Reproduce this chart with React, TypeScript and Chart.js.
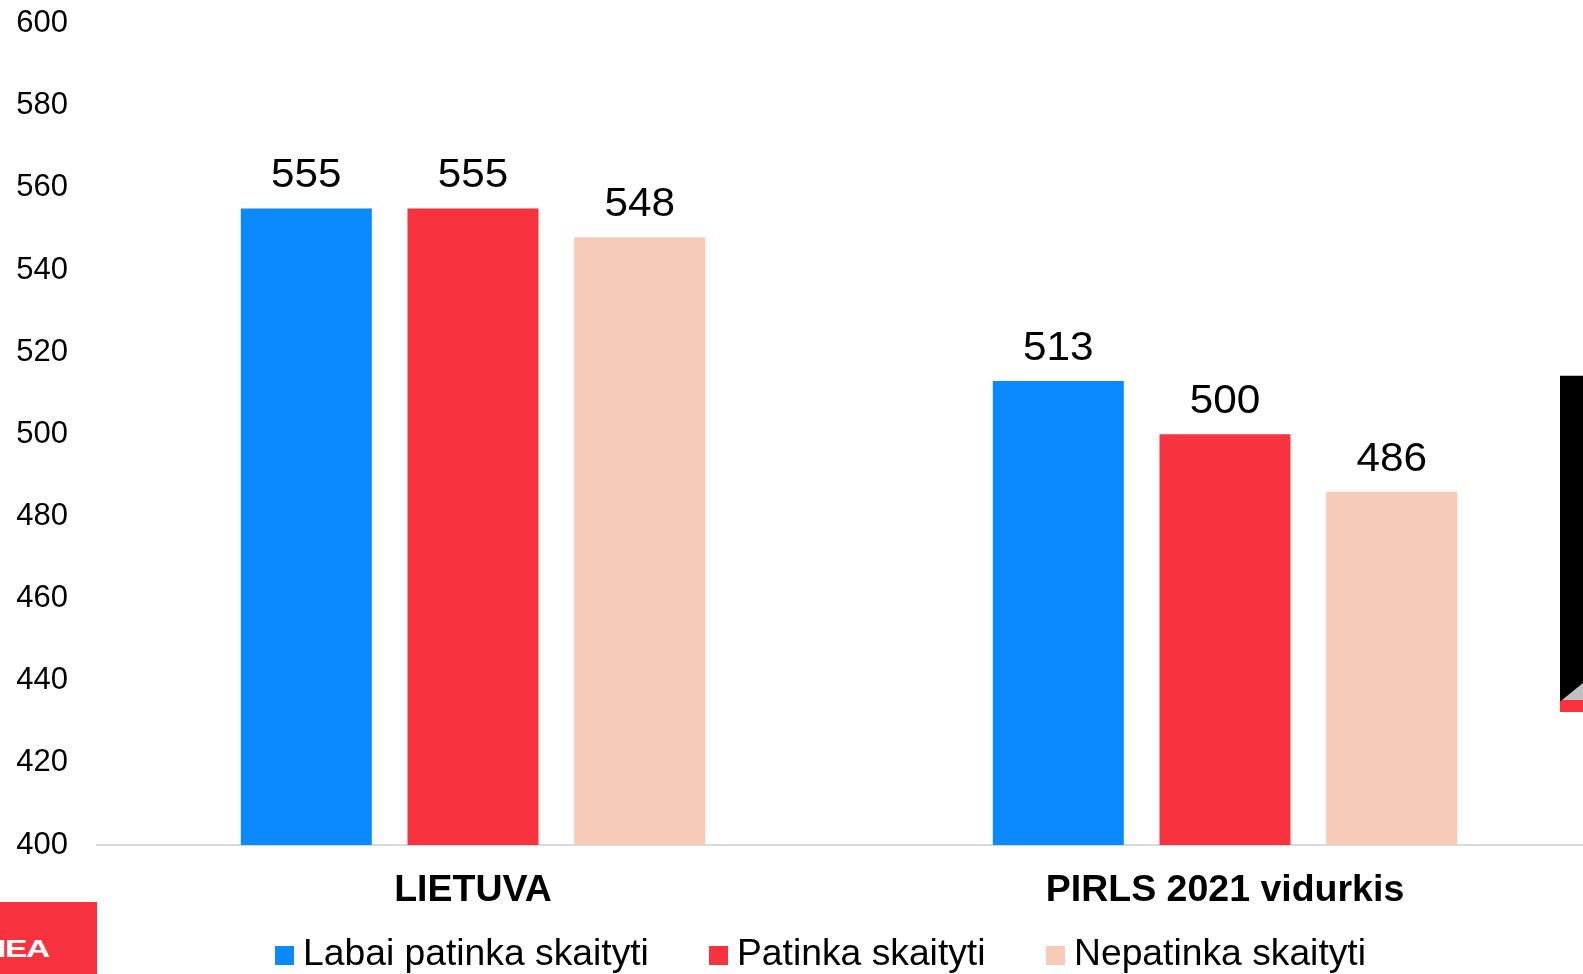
import React, { useEffect, useRef } from "react";
import { Chart, registerables } from "chart.js";

Chart.register(...registerables);

const categories = ["LIETUVA", "PIRLS 2021 vidurkis"];
const seriesNames = ["Labai patinka skaityti", "Patinka skaityti", "Nepatinka skaityti"];
const labaiPatinka = [555, 513];
const patinka = [555, 500];
const nepatinka = [548, 486];
const yMin = 400;
const yMax = 600;
const yStep = 20;
const colors = ["#0B8AFF", "#F8323F", "#F8CBB9"];

const FONT = '"Liberation Sans", Arial, Helvetica, sans-serif';

const valueLabels = {
  id: "valueLabels",
  afterDatasetsDraw(chart: any) {
    const ctx = chart.ctx;
    chart.data.datasets.forEach((ds: any, i: number) => {
      const meta = chart.getDatasetMeta(i);
      meta.data.forEach((bar: any, j: number) => {
        ctx.save();
        ctx.font = `40.5px ${FONT}`;
        ctx.fillStyle = "#000";
        ctx.textAlign = "center";
        ctx.textBaseline = "alphabetic";
        ctx.translate(bar.x, bar.y - 21);
        ctx.scale(1.045, 1);
        ctx.fillText(String(ds.data[j]), 0, 0);
        ctx.restore();
      });
    });
  },
};

const legendLefts = [275, 709, 1046];

export default function App() {
  const canvasRef = useRef<HTMLCanvasElement | null>(null);

  useEffect(() => {
    if (!canvasRef.current) return;
    const series = [labaiPatinka, patinka, nepatinka];
    const chart = new Chart(canvasRef.current, {
      type: "bar",
      data: {
        labels: categories,
        datasets: series.map((d, i) => ({
          label: seriesNames[i],
          data: d,
          backgroundColor: colors[i],
          borderWidth: 0,
          categoryPercentage: 0.665,
          barPercentage: 0.786,
        })),
      },
      options: {
        responsive: false,
        animation: false,
        layout: { padding: { top: 1, left: 0, right: 0, bottom: 0 } },
        plugins: {
          legend: { display: false },
          tooltip: { enabled: false },
        },
        scales: {
          x: {
            grid: { display: false, drawTicks: false },
            border: { display: true, color: "#D9D9D9", width: 2 },
            ticks: {
              color: "#000",
              font: { family: FONT, size: 37.5, weight: "bold" },
              padding: 23,
            },
          },
          y: {
            min: yMin,
            max: yMax,
            grid: { display: false, drawTicks: false },
            border: { display: false },
            ticks: {
              stepSize: yStep,
              color: "#000",
              font: { family: FONT, size: 31 },
              padding: 29,
            },
            afterFit: (scale: any) => {
              scale.width = 97;
            },
          },
        },
      } as any,
      plugins: [valueLabels],
    });
    return () => chart.destroy();
  }, []);

  return (
    <div
      style={{
        position: "fixed",
        left: 0,
        top: 0,
        width: 1583,
        height: 974,
        overflow: "hidden",
        background: "#fff",
      }}
    >
      <canvas
        ref={canvasRef}
        width={1601}
        height={960}
        style={{ position: "absolute", left: 0, top: -24, width: 1601, height: 960 }}
      />
      {seriesNames.map((name, i) => (
        <div
          key={i}
          style={{
            position: "absolute",
            left: legendLefts[i],
            top: 935,
            height: 36,
            fontFamily: FONT,
            fontSize: 36,
            lineHeight: "36px",
            color: "#000",
            whiteSpace: "nowrap",
          }}
        >
          <div
            style={{
              position: "absolute",
              left: 0,
              top: 11,
              width: 19,
              height: 19,
              background: colors[i],
            }}
          />
          <span
            style={{
              position: "absolute",
              left: 28,
              top: 0,
              transform: "scaleX(1.035)",
              transformOrigin: "left center",
            }}
          >
            {name}
          </span>
        </div>
      ))}
      <div
        style={{
          position: "absolute",
          left: 0,
          top: 902,
          width: 97,
          height: 72,
          background: "#F8323F",
          overflow: "hidden",
        }}
      >
        <span
          style={{
            position: "absolute",
            left: -3,
            top: 35,
            fontFamily: FONT,
            fontWeight: "bold",
            fontSize: 24,
            lineHeight: "24px",
            color: "#fff",
            letterSpacing: -1,
            transform: "scaleX(1.4)",
            transformOrigin: "left center",
            whiteSpace: "nowrap",
          }}
        >
          IEA
        </span>
      </div>
      <svg
        width={28}
        height={350}
        viewBox="1555 370 28 350"
        style={{ position: "absolute", left: 1555, top: 370 }}
      >
        <rect x={1560} y={375} width={23} height={337} fill="#000" />
        <line x1={1560} y1={375.5} x2={1583} y2={375.5} stroke="#BBBBBB" strokeWidth={1} />
        <polygon points="1562,700 1583,683 1583,700" fill="#C0C0C0" />
        <path d="M1563,700 H1583 V712 H1560 V703 Q1560,700 1563,700 Z" fill="#F8323F" />
      </svg>
    </div>
  );
}
